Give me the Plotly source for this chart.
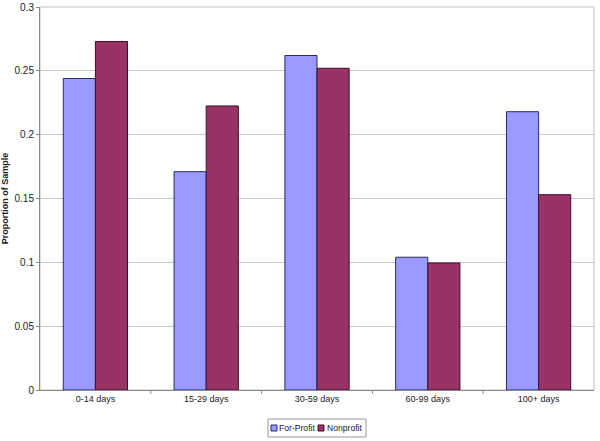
import plotly.graph_objects as go

categories = ["0-14 days", "15-29 days", "30-59 days", "60-99 days", "100+ days"]
series_names = ["For-Profit", "Nonprofit"]
for_profit = [0.244, 0.171, 0.262, 0.104, 0.218]
nonprofit = [0.273, 0.2225, 0.252, 0.0995, 0.153]
y_ticks = [0, 0.05, 0.1, 0.15, 0.2, 0.25, 0.3]
y_tick_labels = ["0", "0.05", "0.1", "0.15", "0.2", "0.25", "0.3"]
fills = ["#9999FF", "#993366"]
outlines = ["#2b2b66", "#3a1028"]

W, H = 600, 441
ML, MR, MT, MB = 40, 6, 7, 51
PW, PH = W - ML - MR, H - MT - MB

def px_x(px):
    return (px - ML) / PW

def px_y(py):
    return (H - MB - py) / PH

fig = go.Figure()
for name, vals, fc, lc in zip(series_names, [for_profit, nonprofit], fills, outlines):
    fig.add_trace(go.Bar(name=name, x=categories, y=vals,
                         marker=dict(color=fc, line=dict(color=lc, width=1))))

fig.update_layout(
    width=W, height=H,
    margin=dict(l=ML, r=MR, t=MT, b=MB, autoexpand=False),
    barmode="group", bargap=0.42, bargroupgap=0,
    plot_bgcolor="white", paper_bgcolor="white",
    font=dict(family="Liberation Sans, Arial, sans-serif", size=9, color="#222"),
    showlegend=False,
    xaxis=dict(showline=True, linecolor="#888", linewidth=1,
               ticks="", tickfont=dict(size=9), showgrid=False, automargin=False),
    yaxis=dict(range=[0, 0.3], tickvals=y_ticks, ticktext=y_tick_labels,
               showline=True, linecolor="#888", linewidth=1,
               ticks="outside", ticklen=3, tickcolor="#888", tickfont=dict(size=10),
               showgrid=True, gridcolor="#c8c8c8", gridwidth=1,
               title=dict(text="<b>Proportion of Sample</b>", font=dict(size=9), standoff=4),
               zeroline=False, automargin=False),
)
# light plot-area border (top and right)
fig.add_shape(type="rect", xref="paper", yref="paper", x0=0, x1=1, y0=0, y1=1,
              line=dict(color="#c0c0c0", width=1), layer="below")
# category boundary ticks on x axis
for i in range(1, len(categories)):
    fig.add_shape(type="line", xref="x", yref="paper", x0=i - 0.5, x1=i - 0.5, y0=0, y1=-0.01,
                  line=dict(color="#888", width=1))

# legend box drawn below the plot
fig.add_shape(type="rect", xref="paper", yref="paper",
              x0=px_x(268), x1=px_x(366), y0=px_y(437), y1=px_y(419),
              line=dict(color="#999", width=1), fillcolor="white")
sq_x = [271, 318]
txt_x = [277, 325]
for name, fc, lc, sx, tx in zip(series_names, fills, outlines, sq_x, txt_x):
    fig.add_shape(type="rect", xref="paper", yref="paper",
                  x0=px_x(sx), x1=px_x(sx + 6), y0=px_y(431), y1=px_y(425),
                  line=dict(color=lc, width=1), fillcolor=fc)
    fig.add_annotation(text=name, xref="paper", yref="paper", x=px_x(tx), y=px_y(428),
                       xanchor="left", yanchor="middle", showarrow=False,
                       font=dict(size=8.6, color="#222"))

fig.write_html("out.html", config={"displayModeBar": False},
               post_script="document.body.style.margin='0';document.body.style.padding='0';")
